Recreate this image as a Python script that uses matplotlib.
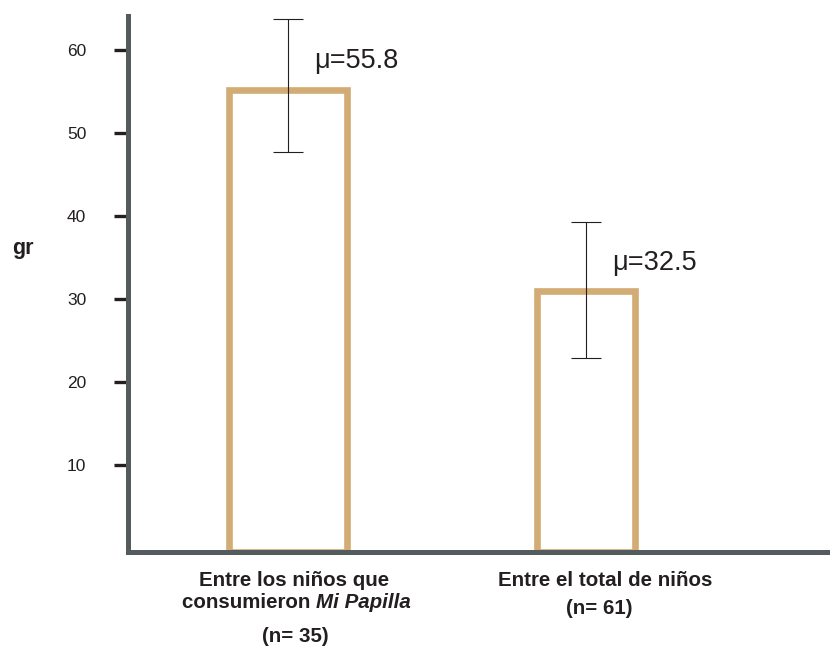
import matplotlib
matplotlib.use("Agg")
import matplotlib.pyplot as plt
import matplotlib.transforms as mtransforms
import numpy as np

plt.rcParams['font.family'] = ['Liberation Sans', 'DejaVu Sans']

# ---- data ----
groups = ["Entre los niños que consumieron Mi Papilla", "Entre el total de niños"]
n_labels = ["(n= 35)", "(n= 61)"]
bar_values = np.array([55.24, 30.96])
mean_labels = ["μ=55.8", "μ=32.5"]
err_low = np.array([47.7, 22.9])
err_high = np.array([63.8, 39.3])
bar_widths = [0.393, 0.332]
yticks = [10, 20, 30, 40, 50, 60]

TXT = '#231f20'
SPINE = '#535b5c'
BAR = '#d3ab74'

fig = plt.figure(figsize=(8.3, 6.47), dpi=100)
ax = fig.add_axes([128/830, (647-552)/647, 702/830, 539/647])

x = np.arange(len(bar_values), dtype=float)
base = -0.5
ax.bar(x, bar_values - base, bottom=base, width=bar_widths, facecolor='none',
       edgecolor=BAR, linewidth=4.8, zorder=2)

mid = (err_low + err_high) / 2
half = (err_high - err_low) / 2
ax.errorbar(x, mid, yerr=half, fmt='none', ecolor=TXT, elinewidth=0.8,
            capsize=11, capthick=0.8, zorder=3)

for xi, v, lab in zip(x, bar_values, mean_labels):
    ax.text(xi + 0.088, v + 2.6, lab, fontsize=19.5, color=TXT, ha='left', va='baseline')

ax.set_xlim(-0.537, 1.819)
ax.set_ylim(base, 64.5)
ax.set_yticks(yticks)
ax.set_yticklabels([str(t) for t in yticks])
ax.set_xticks([])
ax.tick_params(axis='y', direction='out', length=10, width=2.4, color=TXT,
               labelsize=12.5, labelcolor=TXT, pad=20)

for s in ['top', 'right']:
    ax.spines[s].set_visible(False)
for s in ['left', 'bottom']:
    ax.spines[s].set_color(SPINE)
    ax.spines[s].set_linewidth(3.6)
    ax.spines[s].set_zorder(4)
ax.spines['left'].set_bounds(base, 64.1)

fig.text(12/830, 1 - 254/647, "gr", fontsize=15.5, fontweight='bold', color=TXT,
         ha='left', va='baseline')

# category labels
trans = mtransforms.blended_transform_factory(ax.transData, fig.transFigure)
fs = 14.8
def fy(py):
    return 1 - py / 647

# group 1
ax.text(x[0] + 0.02, fy(581), "Entre los niños que", transform=trans, ha='center', va='center',
        fontsize=fs, fontweight='bold', color=TXT, clip_on=False)
fig.canvas.draw()
r = fig.canvas.get_renderer()
t1 = ax.text(0, fy(603), "consumieron ", transform=trans, ha='left', va='center',
             fontsize=fs, fontweight='bold', color=TXT, clip_on=False)
t2 = ax.text(0, fy(603), "Mi Papilla", transform=trans, ha='left', va='center',
             fontsize=fs, fontweight='bold', fontstyle='italic', color=TXT, clip_on=False)
w1 = t1.get_window_extent(r).width
w2 = t2.get_window_extent(r).width
cx_pix = ax.transData.transform((x[0] + 0.027, 0))[0]
left_pix = cx_pix - (w1 + w2) / 2
inv = ax.transData.inverted()
t1.set_x(inv.transform((left_pix, 0))[0])
t2.set_x(inv.transform((left_pix + w1, 0))[0])
ax.text(x[0] + 0.025, fy(636), n_labels[0], transform=trans, ha='center', va='center',
        fontsize=fs, fontweight='bold', color=TXT, clip_on=False)

# group 2
ax.text(x[1] + 0.065, fy(581), groups[1], transform=trans, ha='center', va='center',
        fontsize=fs, fontweight='bold', color=TXT, clip_on=False)
ax.text(x[1] + 0.045, fy(609), n_labels[1], transform=trans, ha='center', va='center',
        fontsize=fs, fontweight='bold', color=TXT, clip_on=False)

fig.savefig("out.png", dpi=100)
